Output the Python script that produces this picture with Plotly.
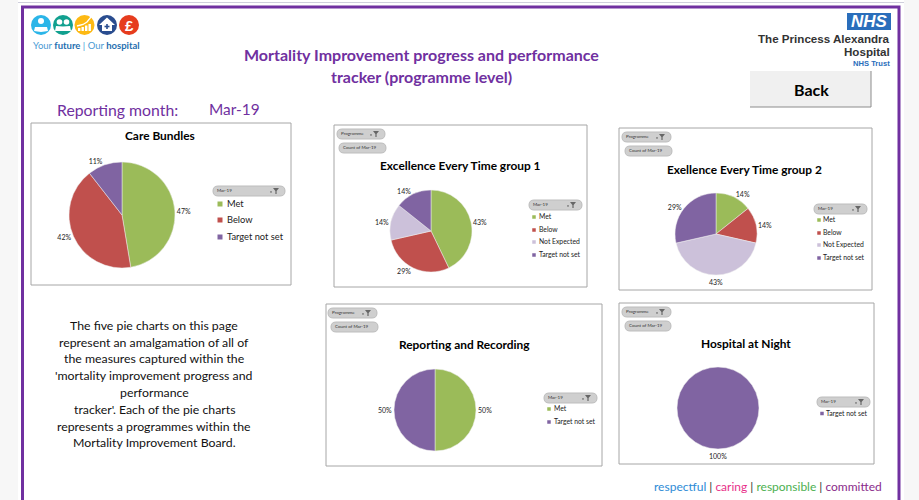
import plotly.graph_objects as go

W, H = 919, 500
FONT = "Lato"
PURPLE = "#7030a0"

# ---- data ----
colours = {"Met": "#9bbb59", "Below": "#c0504d",
           "Not Expected": "#ccc1da", "Target not set": "#8064a2"}

care_labels = ["Met", "Below", "Target not set"]
care_values = [9, 8, 2]
eet1_labels = ["Met", "Below", "Not Expected", "Target not set"]
eet1_values = [3, 2, 1, 1]
eet2_labels = ["Met", "Below", "Not Expected", "Target not set"]
eet2_values = [1, 1, 3, 2]
rr_labels = ["Met", "Target not set"]
rr_values = [1, 1]
han_labels = ["Target not set"]
han_values = [1]

main_title = ["Mortality Improvement progress and performance", "tracker (programme level)"]
paragraph = ["The five pie charts on this page",
             "represent an amalgamation of all of",
             "the measures captured within the",
             "'mortality improvement progress and",
             "performance",
             "tracker'. Each of the pie charts",
             "represents a programmes within the",
             "Mortality Improvement Board."]

TS = 11.9
LS = 6.8
panels = [
    dict(title="Care Bundles", labels=care_labels, values=care_values,
         box=(31, 123, 291, 285), c=(122, 215), r=53, ty=136, tx=160, tsize=TS,
         pills=[], lpill=(213, 186, 285, 196), lx=220, ly=[204, 220, 237], lt=226, lsize=9.3, ms=5, dl=7, manual={}),
    dict(title="Excellence Every Time group 1", labels=eet1_labels, values=eet1_values,
         box=(334, 125, 587, 287), c=(431, 231), r=41, ty=166, tx=460, tsize=TS,
         pills=[(337, 129, 385, 139, "Programme", True), (339, 143, 386, 153, "Count of Mar-19", False)],
         lpill=(529, 200, 582, 210), lx=534, ly=[217, 230, 242, 255], lt=538, lsize=LS, ms=3.5, dl=7, manual={}),
    dict(title="Exellence Every Time group 2", labels=eet2_labels, values=eet2_values,
         box=(619, 128, 872, 290), c=(716, 234), r=41, ty=170, tx=744, tsize=TS,
         pills=[(622, 132, 671, 142, "Programme", True), (625, 146, 672, 156, "Count of Mar-19", False)],
         lpill=(814, 204, 867, 214), lx=819, ly=[220, 233, 245, 258], lt=822, lsize=LS, ms=3.5, dl=7,
         manual={2: (716, 283)}),
    dict(title="Reporting and Recording", labels=rr_labels, values=rr_values,
         box=(326, 304, 602, 466), c=(435, 410), r=41, ty=345, tx=464, tsize=TS,
         pills=[(328, 308, 377, 318, "Programme", True), (331, 322, 378, 332, "Count of Mar-19", False)],
         lpill=(544, 393, 597, 403), lx=549, ly=[409, 422], lt=553, lsize=LS, ms=3.5, dl=7, manual={}),
    dict(title="Hospital at Night", labels=han_labels, values=han_values,
         box=(619, 303, 874, 464), c=(718, 408), r=41, ty=344, tx=746, tsize=TS,
         pills=[(622, 307, 671, 317, "Programme", True), (625, 321, 671, 331, "Count of Mar-19", False)],
         lpill=(817, 397, 870, 407), lx=822, ly=[413.5], lt=825, lsize=LS, ms=3.5, dl=7,
         manual={0: (718, 457)}),
]

fig = go.Figure()
shapes, annos = [], []


def X(x):
    return x / W


def Y(y):
    return 1 - y / H


def rect(x0, y0, x1, y1, fill="rgba(0,0,0,0)", line=None, width=1):
    shapes.append(dict(type="rect", xref="paper", yref="paper", x0=X(x0), x1=X(x1), y0=Y(y0), y1=Y(y1),
                       fillcolor=fill, line=dict(color=line or "rgba(0,0,0,0)", width=width if line else 0)))


def circle(cx, cy, r, fill):
    shapes.append(dict(type="circle", xref="paper", yref="paper", x0=X(cx - r), x1=X(cx + r),
                       y0=Y(cy + r), y1=Y(cy - r), fillcolor=fill, line=dict(width=0)))


def poly(pts, fill="rgba(0,0,0,0)", line=None, width=1, close=True):
    d = "M " + " L ".join(f"{X(a):.5f},{Y(b):.5f}" for a, b in pts) + (" Z" if close else "")
    shapes.append(dict(type="path", xref="paper", yref="paper", path=d, fillcolor=fill,
                       line=dict(color=line or "rgba(0,0,0,0)", width=width if line else 0)))


def text(x, y, s, size=12, color="#000", anchor="center", family=FONT):
    # Lato sits a little low in its line box; lift it to match the reference baselines
    dy = 0.8 if family == FONT else 0
    annos.append(dict(xref="paper", yref="paper", x=X(x), y=Y(y - dy), text=s, showarrow=False,
                      xanchor=anchor, yanchor="middle", borderpad=0,
                      font=dict(size=size, color=color, family=family)))


def pill(x0, y0, x1, y1, label, funnel=True):
    r = (y1 - y0) / 2
    xr = r / W
    yr = r / H
    d = (f"M {X(x0)+xr:.5f},{Y(y0):.5f} L {X(x1)-xr:.5f},{Y(y0):.5f} "
         f"Q {X(x1):.5f},{Y(y0):.5f} {X(x1):.5f},{Y(y0)-yr:.5f} "
         f"Q {X(x1):.5f},{Y(y1):.5f} {X(x1)-xr:.5f},{Y(y1):.5f} "
         f"L {X(x0)+xr:.5f},{Y(y1):.5f} "
         f"Q {X(x0):.5f},{Y(y1):.5f} {X(x0):.5f},{Y(y0)-yr:.5f} "
         f"Q {X(x0):.5f},{Y(y0):.5f} {X(x0)+xr:.5f},{Y(y0):.5f} Z")
    shapes.append(dict(type="path", xref="paper", yref="paper", path=d, fillcolor="#cfcfcf",
                       line=dict(color="#bdbdbd", width=1)))
    text(x0 + 3, (y0 + y1) / 2, label, size=4.5, color="#333", anchor="left")
    if funnel:
        fx = x1 - 9
        fy = (y0 + y1) / 2
        poly([(fx - 3, fy - 3), (fx + 3, fy - 3), (fx + 0.6, fy), (fx + 0.6, fy + 3), (fx - 0.6, fy + 3), (fx - 0.6, fy)],
             fill="#666")
        poly([(fx - 6, fy + 0.5), (fx - 4, fy + 0.5), (fx - 5, fy + 2)], fill="#444")


# ---- page chrome ----
rect(0, 0, 18, 500, fill="#f7f7f7")
rect(904, 0, 919, 500, fill="#f7f7f7")
rect(18, 2, 904, 3, fill="#cfcfdc")
rect(22.5, 7, 899, 520, line=PURPLE, width=3)

# logo strip
logo_cols = ["#2bb5e8", "#11a08f", "#fdb913", "#2a4d8f", "#e63c1e"]
for cx, col in zip([41, 63, 84.5, 107, 129], logo_cols):
    circle(cx, 25, 10, col)
circle(41, 21, 3, "white")
poly([(34, 31), (35, 27), (47, 27), (48, 31), (41, 32)], fill="white")
circle(59.5, 22, 2.8, "white")
circle(66.5, 22, 2.8, "white")
poly([(55, 31), (56, 26), (63, 26.5), (70, 26), (71, 31)], fill="white")
for bx, by in zip([78, 81.5, 85, 88.5], [28, 27, 25.5, 24]):
    rect(bx, by, bx + 2.4, 31, fill="white")
poly([(77, 26), (83, 24.5), (87, 22), (91, 17)], line="white", width=1.3, close=False)
poly([(99, 25), (107, 17.5), (115, 25), (112, 25), (112, 31), (102, 31), (102, 25)], fill="white")
rect(106.2, 24, 107.8, 29, fill="#2a4d8f")
rect(104.5, 25.7, 109.5, 27.3, fill="#2a4d8f")
text(129, 25.5, "<b>£</b>", size=15, color="white", family="Liberation Sans")
text(31.5, 46.5, "<span style='color:#4a9ad4'>Your </span><b>future</b><span style='color:#4a9ad4'> | Our </span><b>hospital</b>",
     size=9.5, color="#1f6fb0", anchor="left")

# NHS block
rect(847, 13, 891, 30, fill="#2a6ebb")
text(869, 21.5, "<b><i>NHS</i></b>", size=17, color="white", family="Liberation Sans")
text(891, 38.4, "<b>The Princess Alexandra</b>", size=11.6, color="#333", anchor="right", family="Liberation Sans")
text(891, 51.9, "<b>Hospital</b>", size=11.6, color="#333", anchor="right", family="Liberation Sans")
text(891, 63, "<b>NHS Trust</b>", size=7.6, color="#2a6ebb", anchor="right", family="Liberation Sans")

# heading
for y, line in zip([55, 77], main_title):
    text(421, y, f"<b>{line}</b>", size=16, color=PURPLE)
text(55.5, 110, "Reporting month:", size=15.8, color=PURPLE, anchor="left")
text(207.5, 110, "Mar-19", size=15.4, color=PURPLE, anchor="left")

# back button
rect(750, 71, 871, 107, fill="#f0f0f0")
poly([(750, 107), (871, 107), (871, 71)], line="#8c8c8c", width=1, close=False)
text(811, 90, "<b>Back</b>", size=16, color="#000")

# paragraph
for y, line in zip([326, 343, 359, 376, 393, 410, 427, 443], paragraph):
    text(154, y, line, size=12.3, color="#111")

# footer
text(883, 487, "<span style='color:#2e8bd6'>respectful</span> | <span style='color:#e8308a'>caring</span> | "
     "<span style='color:#4cb050'>responsible</span> | <span style='color:#8a2a8a'>committed</span>",
     size=12, color="#333", anchor="right")

# ---- panels ----
for p in panels:
    x0, y0, x1, y1 = p["box"]
    rect(x0, y0, x1, y1, fill="white", line="#a6a6a6", width=1)
    text(p["tx"], p["ty"], f"<b>{p['title']}</b>", size=p["tsize"], color="#000")
    for a, b, c, d, s, fun in p["pills"]:
        pill(a, b, c, d, s, fun)
    a, b, c, d = p["lpill"]
    pill(a, b, c, d, "Mar-19")
    for lab, ly in zip(p["labels"], p["ly"]):
        m = p["ms"] / 2
        rect(p["lx"] - m, ly - m, p["lx"] + m, ly + m, fill=colours[lab])
        text(p["lt"], ly, lab, size=p["lsize"], color="#222", anchor="left")
    cx, cy = p["c"]
    r = p["r"]
    total = sum(p["values"])
    # slices whose midpoint falls straight down get their label placed by hand,
    # since plotly pushes an outside label sideways at exactly 180 degrees
    for i, (tx, ty) in p["manual"].items():
        text(tx, ty, f"{p['values'][i] / total:.0%}", size=p["dl"], color="#222")
    fig.add_trace(go.Pie(
        labels=p["labels"], values=p["values"], sort=False, direction="clockwise", rotation=0,
        domain=dict(x=[X(cx - r), X(cx + r)], y=[Y(cy + r), Y(cy - r)]),
        marker=dict(colors=[colours[l] for l in p["labels"]], line=dict(color="#eeeeee", width=0.5)),
        texttemplate="%{percent:.0%}",
        textposition=["none" if i in p["manual"] else "outside" for i in range(len(p["values"]))],
        textfont=dict(size=p["dl"], color="#222", family=FONT),
        automargin=False, showlegend=False, hoverinfo="label+percent",
    ))

fig.update_layout(width=W, height=H, autosize=False, margin=dict(l=0, r=0, t=0, b=0),
                  paper_bgcolor="white", showlegend=False, shapes=shapes, annotations=annos,
                  font=dict(family=FONT))
# shapes must sit under the pies
for s in fig.layout.shapes:
    s.layer = "below"

fig.write_html("out.html", config=dict(displayModeBar=False),
               post_script="document.body.style.margin='0';document.documentElement.style.overflow='hidden';")
